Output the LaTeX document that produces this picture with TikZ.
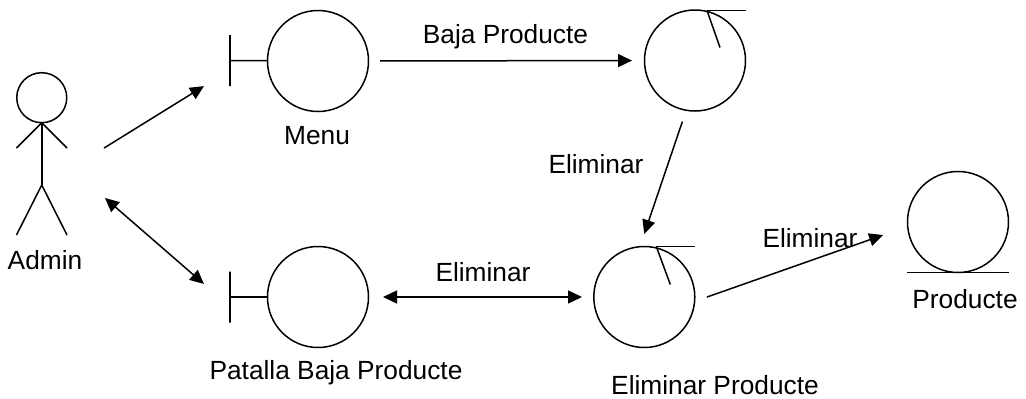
\documentclass[tikz,border=0pt]{standalone}
\usepackage{fontspec}
\setmainfont{Liberation Sans}
\usetikzlibrary{arrows.meta,calc}
\tikzset{
  diagram/.style={x=1pt,y=-1pt,line width=1.5pt,line cap=butt,
    every node/.append style={inner sep=0pt,outer sep=0pt}},
  robust/.style={circle,draw,minimum size=101pt},
  head/.style={circle,draw,minimum size=50pt},
  bar/.style={draw,rectangle,minimum width=0pt,minimum height=51pt},
  frame/.style={rectangle,minimum width=50.5pt,minimum height=163pt},
  txt/.style={font=\fontsize{26.3}{30}\selectfont},
  one/.style={-{Triangle[length=14pt,width=13pt]}},
  both/.style={{Triangle[length=14pt,width=13pt]}-{Triangle[length=14pt,width=13pt]}}
}
\begin{document}
\begin{tikzpicture}[diagram]
\useasboundingbox (0,0) rectangle (1026,399);
% actor
\node[frame] (actor) at (41.75,153.5) {};
\node[head] (hd) at (41.75,97.7) {};
\coordinate (neck) at (hd.south);
\coordinate (hip) at (41.75,185);
\draw (neck) -- (hip);
\draw (16.5,148) -- (neck) -- (67,148);
\draw (16.5,235) -- (hip) -- (67,235);
% robustness shapes
\node[robust] (menu) at (318,61) {};
\node[bar] (barM) at (230,60.5) {};
\draw (barM) -- (menu);
\node[robust] (pat) at (318,297) {};
\node[bar] (barP) at (230,297) {};
\draw (barP) -- (pat);
\node[robust] (ca) at (695,60.5) {};
\draw ([shift={(12,0.5)}]ca.north) -- +(39,0);
\draw ([shift={(12,0.5)}]ca.north) -- +(13,37);
\node[robust] (cb) at (644.3,297) {};
\draw ([shift={(12,0)}]cb.north) -- +(39,0);
\draw ([shift={(12,0)}]cb.north) -- +(14,38);
\node[robust] (ent) at (958,222) {};
\draw ([xshift=-51pt]ent.south) -- ([xshift=51pt]ent.south);
% labels
\node[txt] (l1) at (45,260) {Admin};
\node[txt] (l2) at (317,135.5) {Menu};
\node[txt] (l3) at (336,372.5) {Patalla Baja Producte};
\node[txt] (l4) at (715,385.5) {Eliminar Producte};
\node[txt] (l5) at (965,299.5) {Producte};
\node[txt] (l6) at (505.5,36.5) {Baja Producte};
\node[txt] (l7) at (596,164) {Eliminar};
\node[txt] (l8) at (483,272.5) {Eliminar};
\node[txt] (l9) at (810,238.5) {Eliminar};
% connectors
\draw[one,shorten <=43.6pt,shorten >=30.6pt] ($(actor.east)+(0,17.5)$) -- ($(barM)+(0,9.5)$);
\draw[both,shorten <=50.3pt,shorten >=34.5pt] ($(actor.east)+(0,11.5)$) -- ($(barP)+(0,9.6)$);
\draw[one,shorten <=11.5pt,shorten >=12.5pt] (menu) -- (ca);
\draw[one,shorten <=12pt,shorten >=13.5pt] (ca.260) -- (cb.95);
\draw[both,shorten <=14.5pt,shorten >=11.8pt] (pat) -- (cb);
\draw[one,shorten <=13pt,shorten >=26pt] (cb.-5) -- (ent.185);
\end{tikzpicture}
\end{document}
